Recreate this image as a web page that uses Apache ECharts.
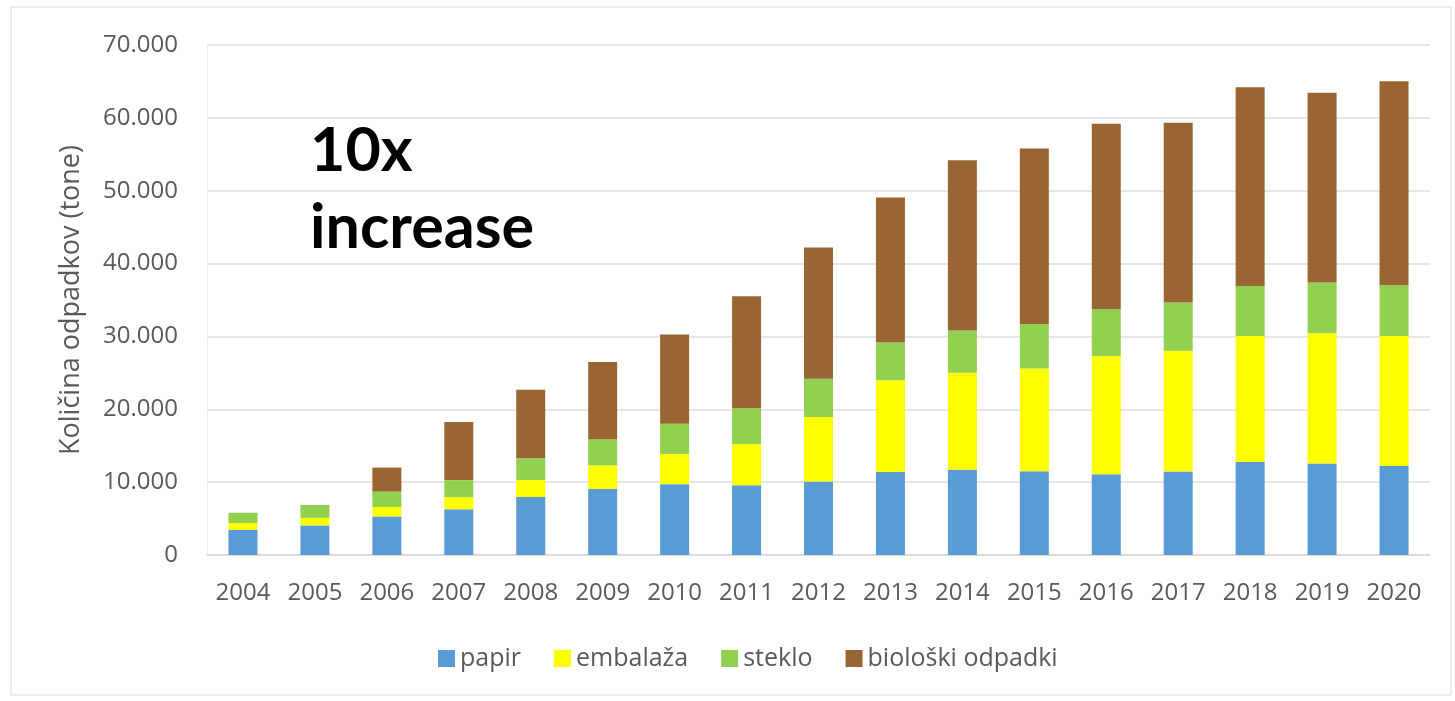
<!DOCTYPE html>
<html><head><meta charset="utf-8">
<script src="https://cdn.jsdelivr.net/npm/echarts@6/dist/echarts.min.js"></script>
<style>html,body{margin:0;padding:0;background:#fff}#c{width:1455px;height:701px}</style>
</head><body><div id="c"></div>
<script>
const years = ['2004','2005','2006','2007','2008','2009','2010','2011','2012','2013','2014','2015','2016','2017','2018','2019','2020'];
const papir = [3460,4060,5300,6270,7970,9080,9720,9590,10090,11380,11700,11500,11100,11470,12750,12570,12200];
const embalaza = [920,1040,1300,1660,2310,3220,4150,5660,8850,12620,13300,14100,16230,16550,17320,17870,17870];
const steklo = [1420,1770,2100,2350,2990,3600,4130,4890,5260,5170,5830,6100,6400,6620,6860,6950,6950];
const bioloski = [0,0,3300,7970,9400,10600,12280,15390,18000,19910,23340,24100,25460,24680,27280,26050,28020];
const yTicks = [0,10000,20000,30000,40000,50000,60000,70000];

const font = 'Open Sans';
const grey = '#595959';
const chart = echarts.init(document.getElementById('c'));
function fmt(v){ return v===0 ? '0' : String(v).replace(/\B(?=(\d{3})+(?!\d))/g,'.'); }
const mk = (name, data, color) => ({name, type:'bar', stack:'a', data, barWidth:29, itemStyle:{color}});
chart.setOption({
  animation:false,
  graphic:[
    {type:'rect', shape:{x:11,y:7,width:1440,height:688}, style:{fill:'none', stroke:'#d9d9d9', lineWidth:1}, silent:true},
    {type:'text', left:310, top:121, style:{text:'10x', font:'bold 61px Lato', fill:'#000'}},
    {type:'text', left:310, top:198, style:{text:'increase', font:'bold 61px Lato', fill:'#000'}}
  ],
  legend:{top:641, left:433, itemWidth:17, itemHeight:17, itemGap:33, icon:'rect',
    textStyle:{fontFamily:font, fontSize:25, color:grey}},
  grid:{left:207, right:25, top:45, bottom:146},
  xAxis:{type:'category', data:years,
    axisLine:{lineStyle:{color:'#d9d9d9', width:1.5}}, axisTick:{show:false},
    axisLabel:{fontFamily:font, fontSize:24, color:grey, margin:26}},
  yAxis:{type:'value', min:0, max:70000, interval:10000,
    name:'Količina odpadkov (tone)', nameLocation:'middle', nameGap:122, nameRotate:90,
    nameTextStyle:{fontFamily:font, fontSize:27, color:grey},
    axisLabel:{fontFamily:font, fontSize:24, color:grey, margin:29, formatter:fmt},
    axisLine:{show:true, lineStyle:{color:'#ececec', type:'dotted'}},
    splitLine:{lineStyle:{color:'#dedede', width:1.5}}},
  series:[
    mk('papir', papir, '#5B9BD5'),
    mk('embalaža', embalaza, '#FFFF00'),
    mk('steklo', steklo, '#92D050'),
    mk('biološki odpadki', bioloski, '#996633')
  ]
});
</script></body></html>
